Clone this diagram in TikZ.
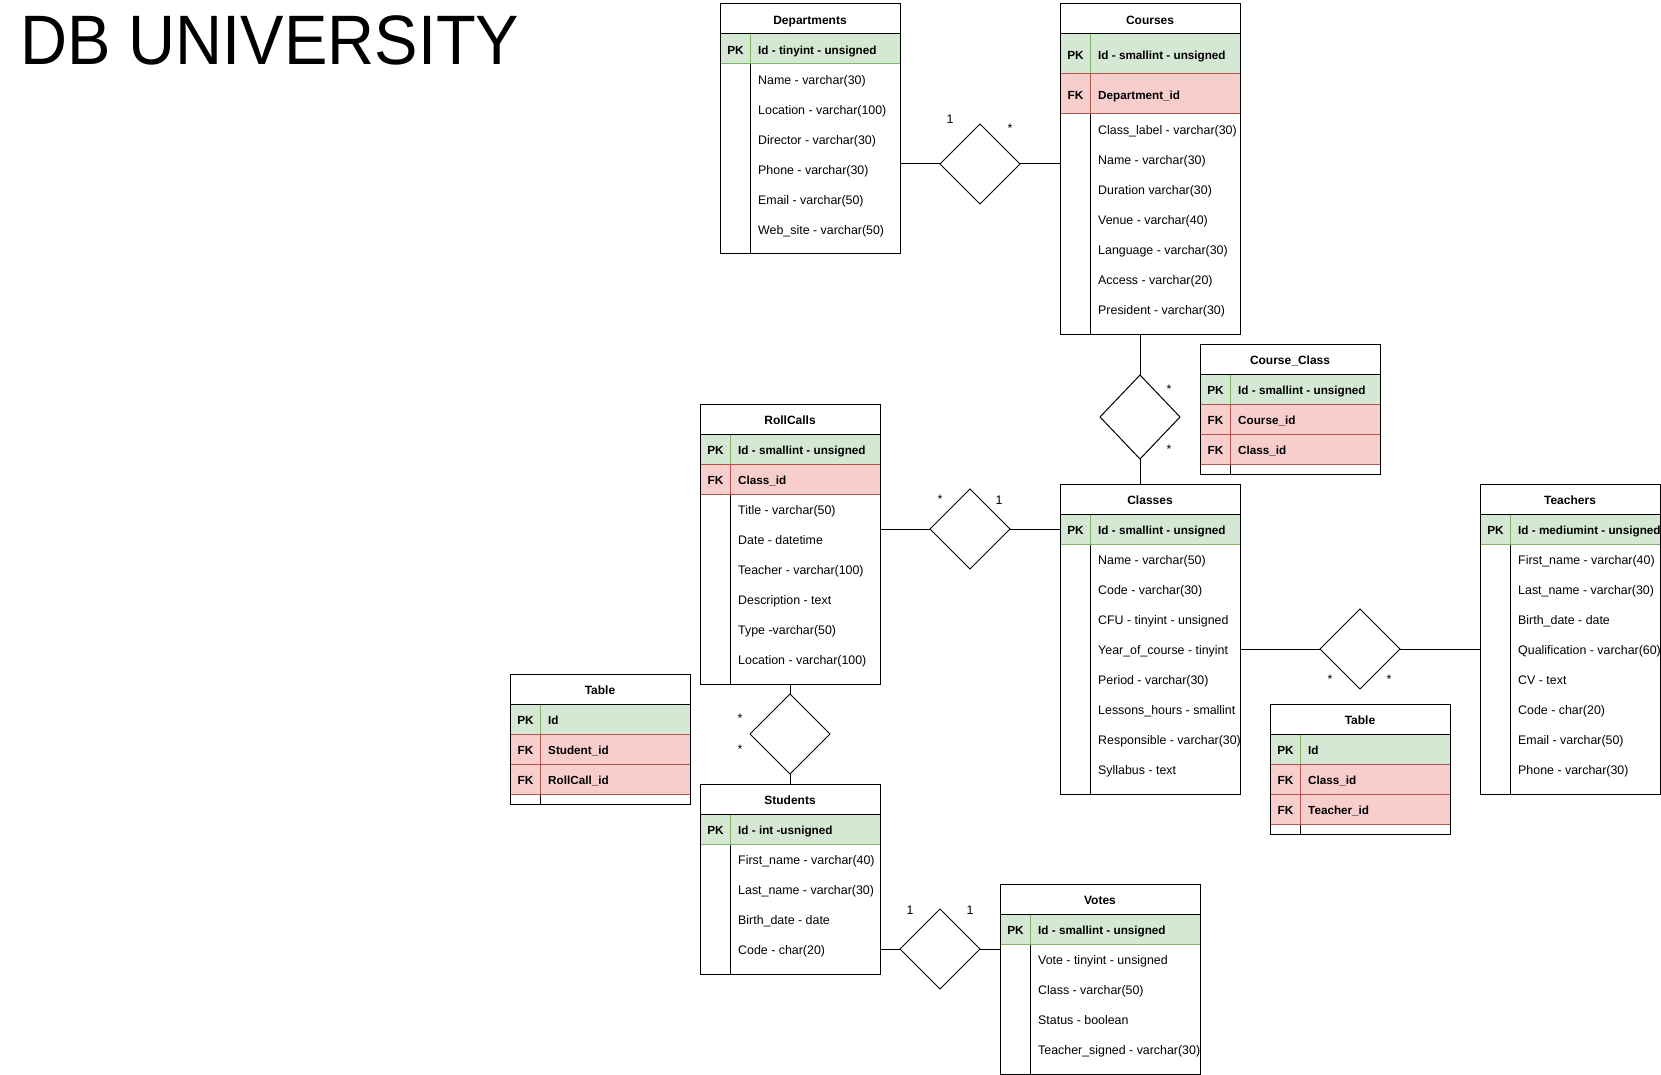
\documentclass[tikz,border=0pt]{standalone}
\usepackage{fontspec}
\usepackage{graphicx}
\setmainfont{Liberation Sans}
\usetikzlibrary{shapes.geometric}
\definecolor{pkfill}{HTML}{D5E8D4}
\definecolor{pkline}{HTML}{82B366}
\definecolor{fkfill}{HTML}{F8CECC}
\definecolor{fkline}{HTML}{B85450}
\newcounter{tn}
\tikzset{
  txt/.style={font=\fontsize{12.4pt}{14pt}\selectfont, inner sep=0pt, text height=11pt, text depth=0pt},
  tbl/.style={draw=black, line width=1pt, inner sep=0pt, outer sep=0pt, anchor=north west},
  tline/.style={draw=black, line width=1pt},
  hdr/.style={txt, font=\fontsize{12pt}{14pt}\selectfont\bfseries},
  keyt/.style={txt, font=\fontsize{11.8pt}{14pt}\selectfont\bfseries},
  fldb/.style={txt, font=\fontsize{11.7pt}{14pt}\selectfont\bfseries, anchor=west},
  fld/.style={txt, anchor=west},
  rel/.style={draw=black, line width=1pt, shape=diamond, minimum width=80pt, minimum height=80pt, inner sep=0pt, outer sep=0pt},
  conn/.style={draw=black, line width=1pt},
  card/.style={font=\fontsize{12.4pt}{14pt}\selectfont, inner sep=0pt, anchor=base},
}
% key rows: x y w h text
\newcommand\pkrow[5]{%
  \path[fill=pkfill, draw=pkline, line width=1pt] (#1,#2) rectangle ++(#3,#4);
  \draw[pkline, line width=1pt] (#1+30,#2) -- ++(0,#4);
  \stepcounter{tn}\node[keyt] (t\arabic{tn}) at (#1+15.5,#2+#4/2) {PK};
  \stepcounter{tn}\node[fldb] (t\arabic{tn}) at (#1+38,#2+#4/2) {#5};
}
\newcommand\fkrow[5]{%
  \path[fill=fkfill, draw=fkline, line width=1pt] (#1,#2) rectangle ++(#3,#4);
  \draw[fkline, line width=1pt] (#1+30,#2) -- ++(0,#4);
  \stepcounter{tn}\node[keyt] (t\arabic{tn}) at (#1+15.5,#2+#4/2) {FK};
  \stepcounter{tn}\node[fldb] (t\arabic{tn}) at (#1+38,#2+#4/2) {#5};
}
% plain fields: x ystart list
\newcommand\fields[3]{%
  \foreach \fldtext [count=\fldidx from 0] in {#3} {%
    \stepcounter{tn}\node[fld] (t\arabic{tn}) at (#1+38,#2+15+30*\fldidx) {\fldtext};
  }%
}
% table: name x y w h title rows
\newcommand\ertable[7]{%
  \draw[tline] (#2+30,#3+30) -- (#2+30,#3+#5);
  #7
  \draw[tline] (#2,#3+30) -- (#2+#4,#3+30);
  \node[tbl, minimum width=#4pt, minimum height=#5pt] (#1) at (#2,#3) {};
  \node[hdr] (#1-title) at (#2+#4/2,#3+15) {#6};
}
\begin{document}
\begin{tikzpicture}[x=1pt,y=-1pt]
\useasboundingbox (0,0) rectangle (1661,1075);

\node[anchor=base west, inner sep=0pt, font=\fontsize{70pt}{80pt}\selectfont] (title) at (20,65) {\scalebox{0.93}[1]{DB UNIVERSITY}};

% Departments
\ertable{dept}{720}{4}{180}{250}{Departments}{%
  \pkrow{720}{34}{180}{30}{Id - tinyint - unsigned}
  \fields{720}{64}{Name - varchar(30), Location - varchar(100), Director - varchar(30), Phone - varchar(30), Email - varchar(50), Web\_site - varchar(50)}
}

% Courses
\ertable{courses}{1060}{4}{180}{330}{Courses}{%
  \pkrow{1060}{34}{180}{40}{Id - smallint - unsigned}
  \fkrow{1060}{74}{180}{40}{Department\_id}
  \fields{1060}{114}{Class\_label - varchar(30), Name - varchar(30), Duration varchar(30), Venue - varchar(40), Language - varchar(30), Access - varchar(20), President - varchar(30)}
}

% Course_Class
\ertable{courseclass}{1200}{344}{180}{130}{Course\_Class}{%
  \pkrow{1200}{374}{180}{30}{Id - smallint - unsigned}
  \fkrow{1200}{404}{180}{30}{Course\_id}
  \fkrow{1200}{434}{180}{30}{Class\_id}
}

% Classes
\ertable{classes}{1060}{484}{180}{310}{Classes}{%
  \pkrow{1060}{514}{180}{30}{Id - smallint - unsigned}
  \fields{1060}{544}{Name - varchar(50), Code - varchar(30), CFU - tinyint - unsigned, Year\_of\_course - tinyint, Period - varchar(30), Lessons\_hours - smallint, Responsible - varchar(30), Syllabus - text}
}

% Teachers
\ertable{teachers}{1480}{484}{180}{310}{Teachers}{%
  \pkrow{1480}{514}{180}{30}{Id - mediumint - unsigned}
  \fields{1480}{544}{First\_name - varchar(40), Last\_name - varchar(30), Birth\_date - date, Qualification - varchar(60), CV - text, Code - char(20), Email - varchar(50), Phone - varchar(30)}
}

% Table (class-teacher)
\ertable{tabct}{1270}{704}{180}{130}{Table}{%
  \pkrow{1270}{734}{180}{30}{Id}
  \fkrow{1270}{764}{180}{30}{Class\_id}
  \fkrow{1270}{794}{180}{30}{Teacher\_id}
}

% RollCalls
\ertable{rollcalls}{700}{404}{180}{280}{RollCalls}{%
  \pkrow{700}{434}{180}{30}{Id - smallint - unsigned}
  \fkrow{700}{464}{180}{30}{Class\_id}
  \fields{700}{494}{Title - varchar(50), Date - datetime, Teacher - varchar(100), Description - text, Type -varchar(50), Location - varchar(100)}
}

% Table (student-rollcall)
\ertable{tabsr}{510}{674}{180}{130}{Table}{%
  \pkrow{510}{704}{180}{30}{Id}
  \fkrow{510}{734}{180}{30}{Student\_id}
  \fkrow{510}{764}{180}{30}{RollCall\_id}
}

% Students
\ertable{students}{700}{784}{180}{190}{Students}{%
  \pkrow{700}{814}{180}{30}{Id - int -usnigned}
  \fields{700}{844}{First\_name - varchar(40), Last\_name - varchar(30), Birth\_date - date, Code - char(20)}
}

% Votes
\ertable{votes}{1000}{884}{200}{190}{Votes}{%
  \pkrow{1000}{914}{200}{30}{Id - smallint - unsigned}
  \fields{1000}{944}{Vote - tinyint - unsigned, Class - varchar(50), Status - boolean, Teacher\_signed - varchar(30)}
}

% Relationships
\node[rel] (r1) at (980,164) {};
\node[rel, minimum height=84pt] (r2) at (1140,417) {};
\node[rel] (r3) at (970,529) {};
\node[rel] (r4) at (790,734) {};
\node[rel] (r5) at (1360,649) {};
\node[rel] (r6) at (940,949) {};

\draw[conn] (r1.west) -- (r1.west -| dept.east);
\draw[conn] (r1.east) -- (r1.east -| courses.west);
\draw[conn] (r2.north) -- (r2.north |- courses.south);
\draw[conn] (r2.south) -- (r2.south |- classes.north);
\draw[conn] (r3.west) -- (r3.west -| rollcalls.east);
\draw[conn] (r3.east) -- (r3.east -| classes.west);
\draw[conn] (r4.north) -- (r4.north |- rollcalls.south);
\draw[conn] (r4.south) -- (r4.south |- students.north);
\draw[conn] (r5.west) -- (r5.west -| classes.east);
\draw[conn] (r5.east) -- (r5.east -| teachers.west);
\draw[conn] (r6.west) -- (r6.west -| students.east);
\draw[conn] (r6.east) -- (r6.east -| votes.west);

% Cardinalities
\node[card] (c1a) at (950,123.3) {1};
\node[card] (c1b) at (1010,133) {*};
\node[card] (c2a) at (1169,393) {*};
\node[card] (c2b) at (1169,453) {*};
\node[card] (c3a) at (940,503) {*};
\node[card] (c3b) at (999,504.3) {1};
\node[card] (c4a) at (740,722) {*};
\node[card] (c4b) at (740,753) {*};
\node[card] (c5a) at (1330,683) {*};
\node[card] (c5b) at (1389,683) {*};
\node[card] (c6a) at (910,914.3) {1};
\node[card] (c6b) at (970,914.3) {1};
\end{tikzpicture}
\end{document}
